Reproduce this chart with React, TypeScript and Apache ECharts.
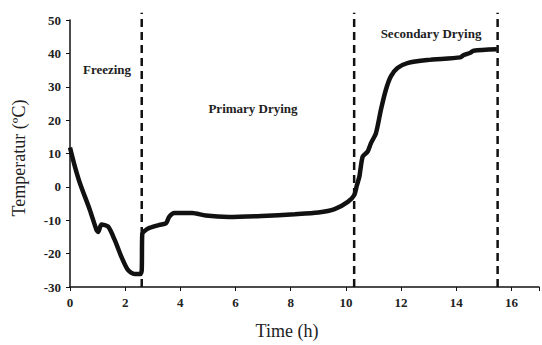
import React, { useEffect, useRef } from "react";
import * as echarts from "echarts";

const timeHours = [
  0, 0.18, 0.36, 0.72, 0.96, 1.02, 1.14, 1.38, 1.62, 1.86, 2.1, 2.34, 2.55, 2.6, 2.62,
  2.7, 2.88, 3.24, 3.48, 3.6, 3.78, 4.0, 4.43, 4.92, 5.76, 6.95, 8.15, 9.0, 9.59,
  10.07, 10.3, 10.4, 10.49, 10.61, 10.79, 10.91, 11.09, 11.27, 11.45, 11.63,
  11.87, 12.23, 12.95, 14.15, 14.27, 14.51, 14.63, 15.47,
];
const temperature = [
  11.8, 6.0, 1.1, -6.9, -12.9, -13.5, -11.3, -11.9, -15.9, -20.9, -24.9, -26.1, -26.1,
  -25, -14, -13.2, -12.3, -11.4, -10.9, -8.9, -7.8, -7.8, -7.8, -8.6, -9.0, -8.7,
  -8.2, -7.7, -6.7, -4.5, -2.5, 0.5, 3.1, 9.1, 10.6, 13.1, 16.1, 23.1, 29.1, 33.1,
  35.6, 37.1, 38.0, 38.8, 39.5, 40.2, 40.8, 41.2,
];
const phaseBoundaries = [2.6, 10.3, 15.5];
const phaseNames = ["Freezing", "Primary Drying", "Secondary Drying"];

const SERIF = "'Liberation Serif', 'Times New Roman', serif";

export default function App() {
  const ref = useRef<HTMLDivElement>(null);
  useEffect(() => {
    if (!ref.current) return;
    const chart = echarts.init(ref.current, null, { renderer: "svg" });
    const lineData = timeHours.map((t, i) => [t, temperature[i]]);
    const labelStyle = {
      fontFamily: SERIF,
      fontWeight: "bold" as const,
      fontSize: 13,
      fill: "#222",
      textAlign: "center" as const,
      textVerticalAlign: "middle" as const,
    };
    chart.setOption({
      animation: false,
      backgroundColor: "#fff",
      grid: { left: 70, right: 0, top: 20, bottom: 58 },
      xAxis: {
        type: "value",
        min: 0,
        max: 17,
        interval: 2,
        axisLine: { onZero: false, lineStyle: { color: "#111", width: 1.5 } },
        axisTick: { length: 4, lineStyle: { color: "#111" } },
        splitLine: { show: false },
        axisLabel: {
          color: "#222",
          fontFamily: SERIF,
          fontWeight: "bold",
          fontSize: 13,
          margin: 9,
          formatter: (v: number) => (v % 2 === 0 && v <= 16 ? String(v) : ""),
        },
      },
      yAxis: {
        type: "value",
        min: -30,
        max: 50,
        interval: 10,
        axisLine: { show: true, onZero: false, lineStyle: { color: "#111", width: 1.5 } },
        axisTick: { show: true, length: 4, lineStyle: { color: "#111" } },
        splitLine: { show: false },
        axisLabel: {
          color: "#222",
          fontFamily: SERIF,
          fontWeight: "bold",
          fontSize: 13,
          margin: 9,
        },
      },
      graphic: [
        {
          type: "text",
          x: 19,
          y: 158,
          rotation: Math.PI / 2,
          style: {
            text: "Temperatur (ºC)",
            fontFamily: SERIF,
            fontSize: 18,
            fill: "#222",
            textAlign: "center",
            textVerticalAlign: "middle",
          },
        },
        {
          type: "text",
          x: 287,
          y: 331,
          style: {
            text: "Time (h)",
            fontFamily: SERIF,
            fontSize: 18,
            fill: "#222",
            textAlign: "center",
            textVerticalAlign: "middle",
          },
        },
        { type: "text", x: 107, y: 69, style: { ...labelStyle, text: phaseNames[0] } },
        { type: "text", x: 253, y: 108, style: { ...labelStyle, text: phaseNames[1] } },
        { type: "text", x: 431, y: 33, style: { ...labelStyle, text: phaseNames[2] } },
      ],
      series: [
        {
          type: "line",
          data: lineData,
          smooth: 0.25,
          showSymbol: false,
          lineStyle: { color: "#111", width: 4.5 },
          z: 3,
        },
        {
          type: "custom",
          clip: false,
          data: phaseBoundaries.map((b) => [b]),
          renderItem: (_params: any, api: any) => {
            const x = api.value(0);
            const p1 = api.coord([x, -30]);
            const p2 = api.coord([x, 52.2]);
            return {
              type: "line",
              shape: { x1: p1[0], y1: p1[1], x2: p2[0], y2: p2[1] },
              style: { stroke: "#111", lineWidth: 2.5, lineDash: [8, 5] },
            };
          },
          z: 2,
        },
      ],
    });
    return () => chart.dispose();
  }, []);
  return (
    <div
      ref={ref}
      style={{ position: "fixed", left: 0, top: 0, width: 542, height: 345 }}
    />
  );
}
